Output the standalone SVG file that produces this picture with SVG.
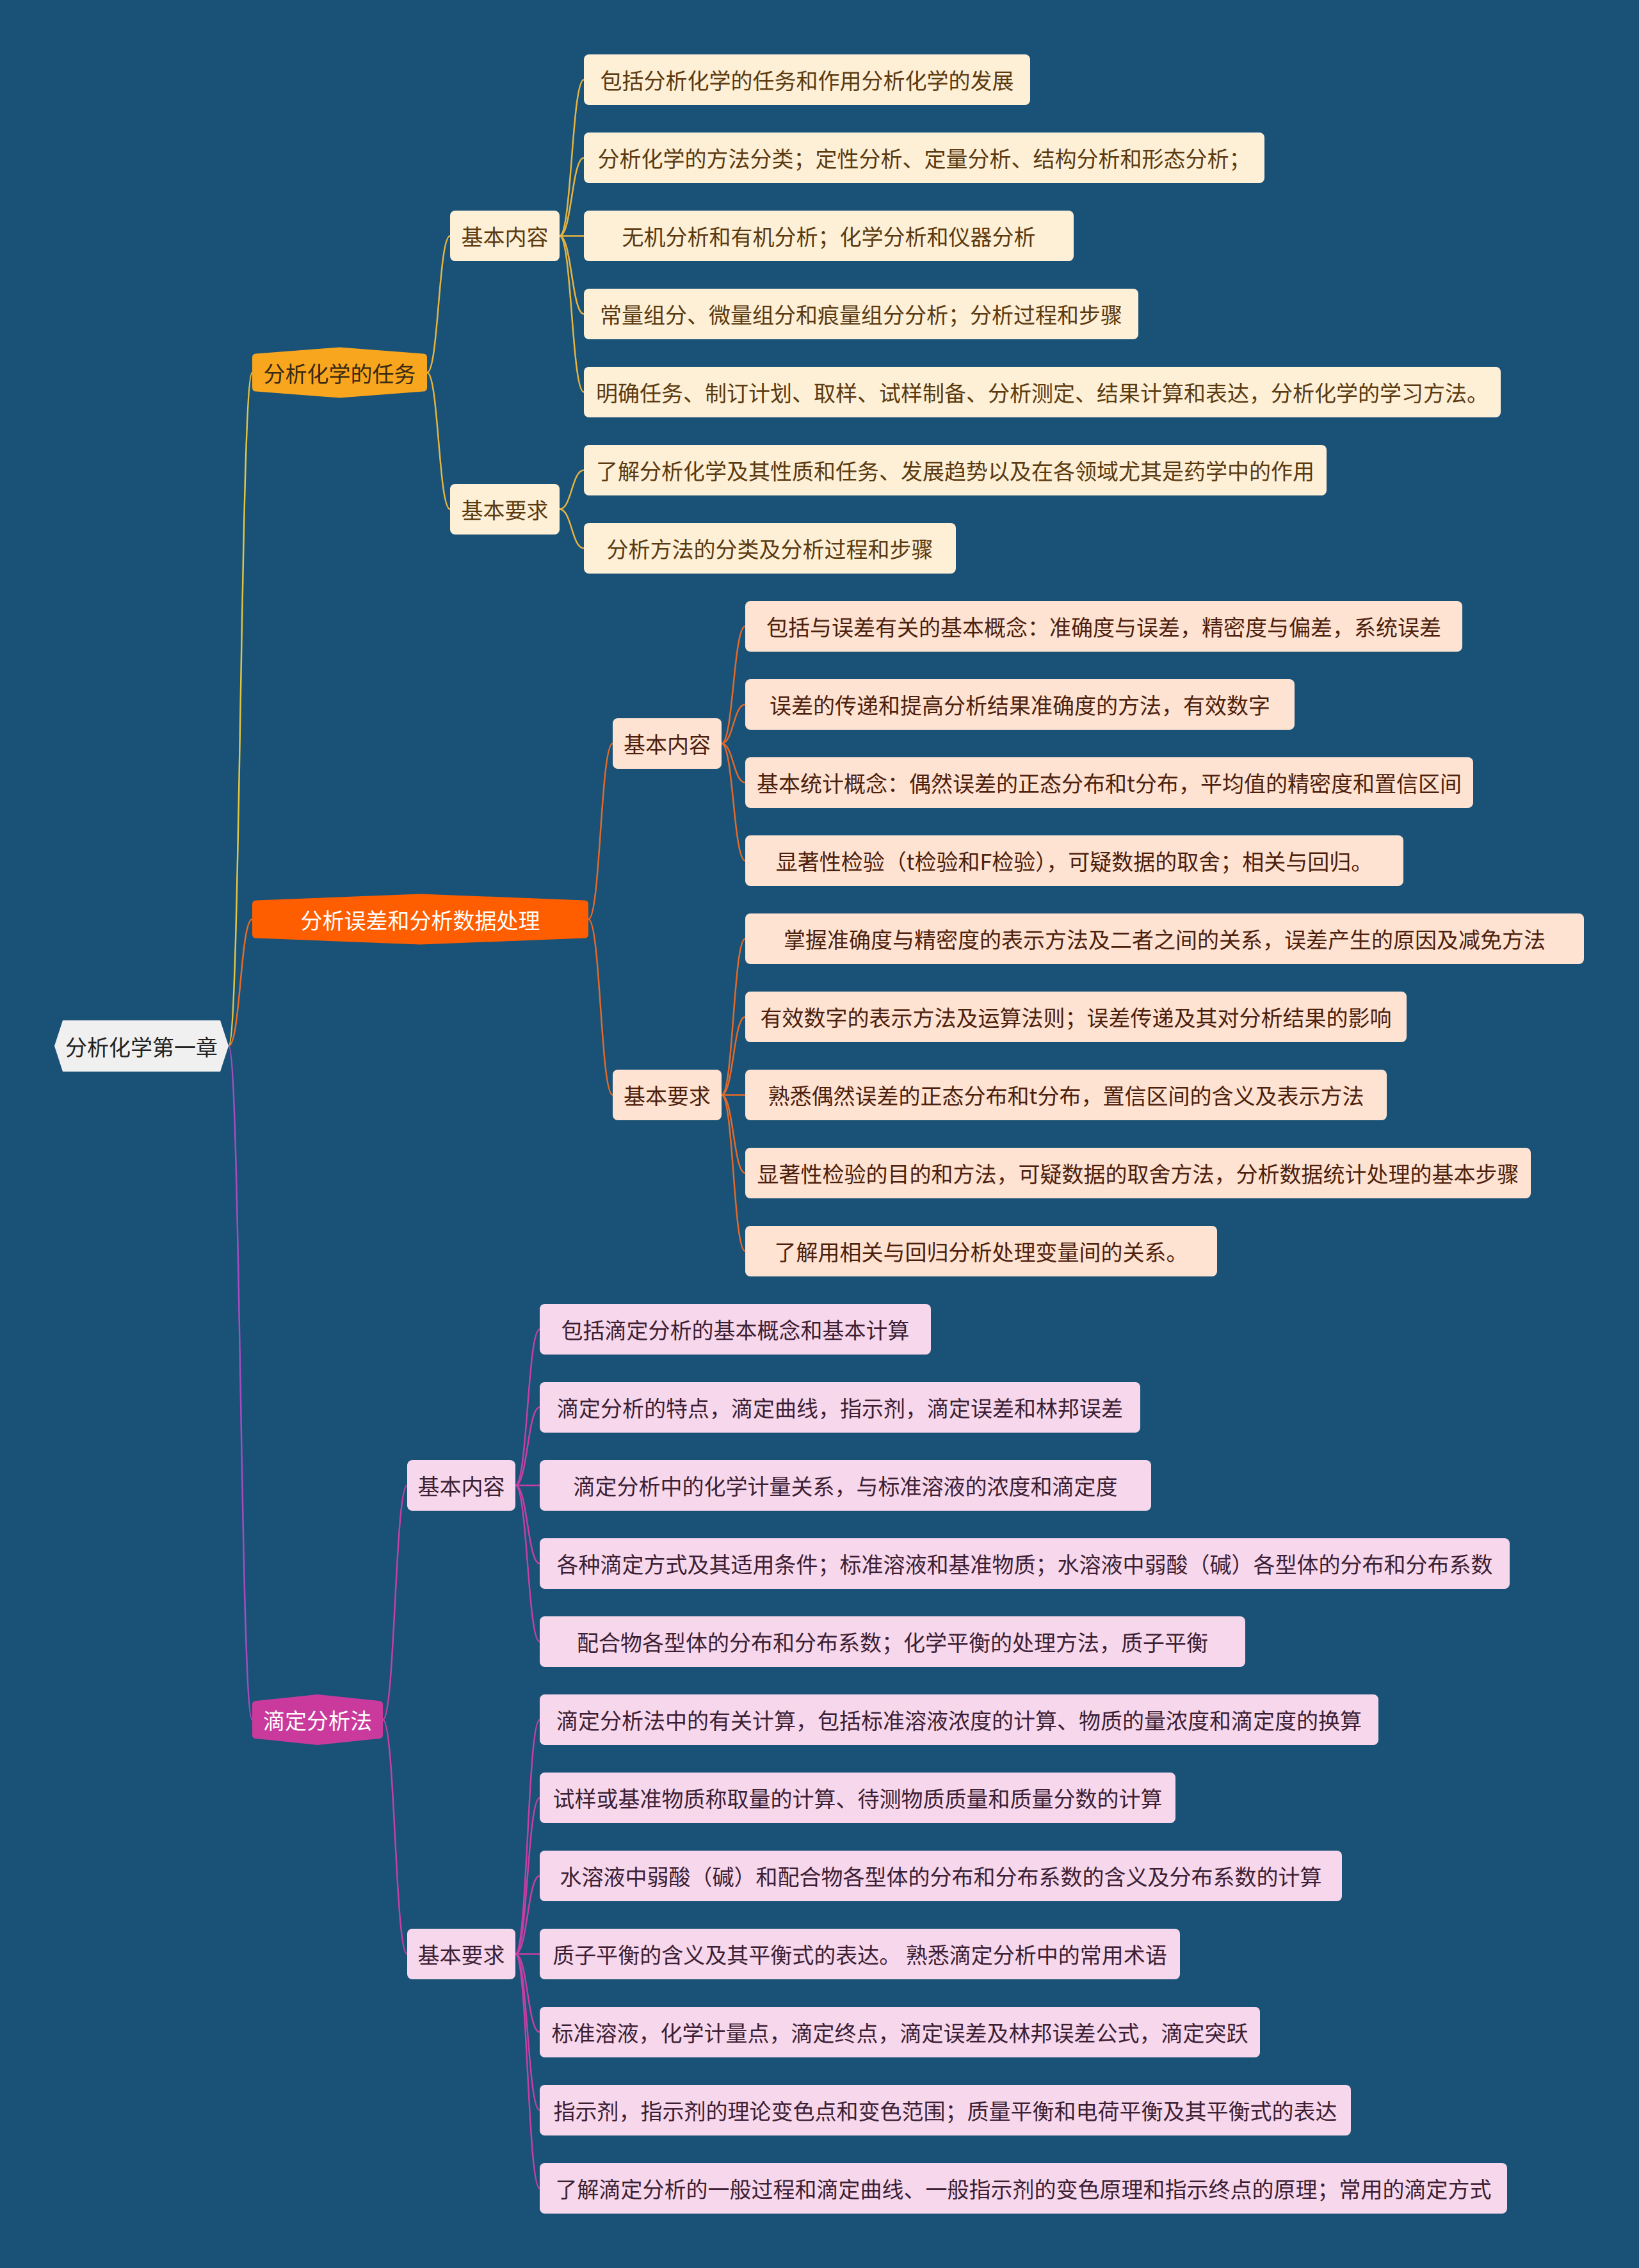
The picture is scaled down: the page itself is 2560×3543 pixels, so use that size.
<svg xmlns="http://www.w3.org/2000/svg" width="2560" height="3543" viewBox="0 0 2560 3543">
<style>
text{font-family:"Noto Sans CJK SC","Noto Sans",sans-serif;font-size:34px;text-anchor:middle;dominant-baseline:central}
.c{fill:none;stroke-width:2.5;stroke-linecap:round}
.c1{stroke:#e6b440}.c2{stroke:#e2692a}.c3{stroke:#c53fa5}
.r1{stroke:#e0c545}.r2{stroke:#e86a28}.r3{stroke:#a64cc0}
.b1{fill:#fdf0d7}.b2{fill:#fee2d2}.b3{fill:#f7d7eb}
.t1{fill:#5b3a10}.t2{fill:#4d1f0d}.t3{fill:#3c1f35}
</style>
<rect width="2560" height="3543" fill="#195276"/>
<g id="connectors">
<path class="c r1" d="M357,1634 C375.5,1634 375.5,582 394,582"/>
<path class="c r2" d="M357,1634 C375.5,1634 375.5,1436 394,1436"/>
<path class="c r3" d="M357,1634 C375.5,1634 375.5,2686.5 394,2686.5"/>
<path class="c c1" d="M667,582 C685,582 685,368.5 703,368.5"/>
<path class="c c1" d="M667,582 C685,582 685,795.5 703,795.5"/>
<path class="c c1" d="M874,368.5 C893,368.5 893,124.5 912,124.5"/>
<path class="c c1" d="M874,368.5 C893,368.5 893,246.5 912,246.5"/>
<path class="c c1" d="M874,368.5 C893,368.5 893,368.5 912,368.5"/>
<path class="c c1" d="M874,368.5 C893,368.5 893,490.5 912,490.5"/>
<path class="c c1" d="M874,368.5 C893,368.5 893,612.5 912,612.5"/>
<path class="c c1" d="M874,795.5 C893,795.5 893,734.5 912,734.5"/>
<path class="c c1" d="M874,795.5 C893,795.5 893,856.5 912,856.5"/>
<path class="c c2" d="M919,1436 C938,1436 938,1161.5 957,1161.5"/>
<path class="c c2" d="M919,1436 C938,1436 938,1710.5 957,1710.5"/>
<path class="c c2" d="M1127,1161.5 C1145.5,1161.5 1145.5,978.5 1164,978.5"/>
<path class="c c2" d="M1127,1161.5 C1145.5,1161.5 1145.5,1100.5 1164,1100.5"/>
<path class="c c2" d="M1127,1161.5 C1145.5,1161.5 1145.5,1222.5 1164,1222.5"/>
<path class="c c2" d="M1127,1161.5 C1145.5,1161.5 1145.5,1344.5 1164,1344.5"/>
<path class="c c2" d="M1127,1710.5 C1145.5,1710.5 1145.5,1466.5 1164,1466.5"/>
<path class="c c2" d="M1127,1710.5 C1145.5,1710.5 1145.5,1588.5 1164,1588.5"/>
<path class="c c2" d="M1127,1710.5 C1145.5,1710.5 1145.5,1710.5 1164,1710.5"/>
<path class="c c2" d="M1127,1710.5 C1145.5,1710.5 1145.5,1832.5 1164,1832.5"/>
<path class="c c2" d="M1127,1710.5 C1145.5,1710.5 1145.5,1954.5 1164,1954.5"/>
<path class="c c3" d="M598,2686.5 C617,2686.5 617,2320.5 636,2320.5"/>
<path class="c c3" d="M598,2686.5 C617,2686.5 617,3052.5 636,3052.5"/>
<path class="c c3" d="M805,2320.5 C824,2320.5 824,2076.5 843,2076.5"/>
<path class="c c3" d="M805,2320.5 C824,2320.5 824,2198.5 843,2198.5"/>
<path class="c c3" d="M805,2320.5 C824,2320.5 824,2320.5 843,2320.5"/>
<path class="c c3" d="M805,2320.5 C824,2320.5 824,2442.5 843,2442.5"/>
<path class="c c3" d="M805,2320.5 C824,2320.5 824,2564.5 843,2564.5"/>
<path class="c c3" d="M805,3052.5 C824,3052.5 824,2686.5 843,2686.5"/>
<path class="c c3" d="M805,3052.5 C824,3052.5 824,2808.5 843,2808.5"/>
<path class="c c3" d="M805,3052.5 C824,3052.5 824,2930.5 843,2930.5"/>
<path class="c c3" d="M805,3052.5 C824,3052.5 824,3052.5 843,3052.5"/>
<path class="c c3" d="M805,3052.5 C824,3052.5 824,3174.5 843,3174.5"/>
<path class="c c3" d="M805,3052.5 C824,3052.5 824,3296.5 843,3296.5"/>
<path class="c c3" d="M805,3052.5 C824,3052.5 824,3418.5 843,3418.5"/>
</g>
<g id="root">
<polygon points="85,1634 98,1594 344,1594 357,1634 344,1674 98,1674" fill="#f0f0f0"/>
<text x="221" y="1634" fill="#222222">分析化学第一章</text>
</g>
<g id="s1">
<path d="M400,552.5 L530.5,542.5 L661,552.5 Q667,552.5 667,558.5 L667,605.5 Q667,611.5 661,611.5 L530.5,621.5 L400,611.5 Q394,611.5 394,605.5 L394,558.5 Q394,552.5 400,552.5 Z" fill="#f9a61f"/>
<text x="530.5" y="582" fill="#3a2a10">分析化学的任务</text>
</g>
<g id="s1-content"><rect class="b1" x="703" y="329" width="171" height="79" rx="8"/><text class="t1" x="788.5" y="368.5">基本内容</text></g>
<g id="s1-req"><rect class="b1" x="703" y="756" width="171" height="79" rx="8"/><text class="t1" x="788.5" y="795.5">基本要求</text></g>
<g id="s1-1"><rect class="b1" x="912" y="85" width="697" height="79" rx="8"/><text class="t1" x="1260.5" y="124.5">包括分析化学的任务和作用分析化学的发展</text></g>
<g id="s1-2"><rect class="b1" x="912" y="207" width="1063" height="79" rx="8"/><text class="t1" x="1443.5" y="246.5">分析化学的方法分类；定性分析、定量分析、结构分析和形态分析；</text></g>
<g id="s1-3"><rect class="b1" x="912" y="329" width="765" height="79" rx="8"/><text class="t1" x="1294.5" y="368.5">无机分析和有机分析；化学分析和仪器分析</text></g>
<g id="s1-4"><rect class="b1" x="912" y="451" width="866" height="79" rx="8"/><text class="t1" x="1345" y="490.5">常量组分、微量组分和痕量组分分析；分析过程和步骤</text></g>
<g id="s1-5"><rect class="b1" x="912" y="573" width="1432" height="79" rx="8"/><text class="t1" x="1628" y="612.5">明确任务、制订计划、取样、试样制备、分析测定、结果计算和表达，分析化学的学习方法。</text></g>
<g id="s1-6"><rect class="b1" x="912" y="695" width="1160" height="79" rx="8"/><text class="t1" x="1492" y="734.5">了解分析化学及其性质和任务、发展趋势以及在各领域尤其是药学中的作用</text></g>
<g id="s1-7"><rect class="b1" x="912" y="817" width="581" height="79" rx="8"/><text class="t1" x="1202.5" y="856.5">分析方法的分类及分析过程和步骤</text></g>
<g id="s2">
<path d="M400,1406.5 L656.5,1396.5 L913,1406.5 Q919,1406.5 919,1412.5 L919,1459.5 Q919,1465.5 913,1465.5 L656.5,1475.5 L400,1465.5 Q394,1465.5 394,1459.5 L394,1412.5 Q394,1406.5 400,1406.5 Z" fill="#fe5e00"/>
<text x="656.5" y="1436" fill="#ffffff">分析误差和分析数据处理</text>
</g>
<g id="s2-content"><rect class="b2" x="957" y="1122" width="170" height="79" rx="8"/><text class="t2" x="1042" y="1161.5">基本内容</text></g>
<g id="s2-req"><rect class="b2" x="957" y="1671" width="170" height="79" rx="8"/><text class="t2" x="1042" y="1710.5">基本要求</text></g>
<g id="s2-1"><rect class="b2" x="1164" y="939" width="1120" height="79" rx="8"/><text class="t2" x="1724" y="978.5">包括与误差有关的基本概念：准确度与误差，精密度与偏差，系统误差</text></g>
<g id="s2-2"><rect class="b2" x="1164" y="1061" width="858" height="79" rx="8"/><text class="t2" x="1593" y="1100.5">误差的传递和提高分析结果准确度的方法，有效数字</text></g>
<g id="s2-3"><rect class="b2" x="1164" y="1183" width="1137" height="79" rx="8"/><text class="t2" x="1732.5" y="1222.5">基本统计概念：偶然误差的正态分布和t分布，平均值的精密度和置信区间</text></g>
<g id="s2-4"><rect class="b2" x="1164" y="1305" width="1028" height="79" rx="8"/><text class="t2" x="1678" y="1344.5">显著性检验（t检验和F检验），可疑数据的取舍；相关与回归。</text></g>
<g id="s2-5"><rect class="b2" x="1164" y="1427" width="1310" height="79" rx="8"/><text class="t2" x="1819" y="1466.5">掌握准确度与精密度的表示方法及二者之间的关系，误差产生的原因及减免方法</text></g>
<g id="s2-6"><rect class="b2" x="1164" y="1549" width="1033" height="79" rx="8"/><text class="t2" x="1680.5" y="1588.5">有效数字的表示方法及运算法则；误差传递及其对分析结果的影响</text></g>
<g id="s2-7"><rect class="b2" x="1164" y="1671" width="1002" height="79" rx="8"/><text class="t2" x="1665" y="1710.5">熟悉偶然误差的正态分布和t分布，置信区间的含义及表示方法</text></g>
<g id="s2-8"><rect class="b2" x="1164" y="1793" width="1227" height="79" rx="8"/><text class="t2" x="1777.5" y="1832.5">显著性检验的目的和方法，可疑数据的取舍方法，分析数据统计处理的基本步骤</text></g>
<g id="s2-9"><rect class="b2" x="1164" y="1915" width="737" height="79" rx="8"/><text class="t2" x="1532.5" y="1954.5">了解用相关与回归分析处理变量间的关系。</text></g>
<g id="s3">
<path d="M400,2657 L496,2647 L592,2657 Q598,2657 598,2663 L598,2710 Q598,2716 592,2716 L496,2726 L400,2716 Q394,2716 394,2710 L394,2663 Q394,2657 400,2657 Z" fill="#c93a9c"/>
<text x="496" y="2686.5" fill="#ffffff">滴定分析法</text>
</g>
<g id="s3-content"><rect class="b3" x="636" y="2281" width="169" height="79" rx="8"/><text class="t3" x="720.5" y="2320.5">基本内容</text></g>
<g id="s3-req"><rect class="b3" x="636" y="3013" width="169" height="79" rx="8"/><text class="t3" x="720.5" y="3052.5">基本要求</text></g>
<g id="s3-1"><rect class="b3" x="843" y="2037" width="611" height="79" rx="8"/><text class="t3" x="1148.5" y="2076.5">包括滴定分析的基本概念和基本计算</text></g>
<g id="s3-2"><rect class="b3" x="843" y="2159" width="938" height="79" rx="8"/><text class="t3" x="1312" y="2198.5">滴定分析的特点，滴定曲线，指示剂，滴定误差和林邦误差</text></g>
<g id="s3-3"><rect class="b3" x="843" y="2281" width="955" height="79" rx="8"/><text class="t3" x="1320.5" y="2320.5">滴定分析中的化学计量关系，与标准溶液的浓度和滴定度</text></g>
<g id="s3-4"><rect class="b3" x="843" y="2403" width="1515" height="79" rx="8"/><text class="t3" x="1600.5" y="2442.5">各种滴定方式及其适用条件；标准溶液和基准物质；水溶液中弱酸（碱）各型体的分布和分布系数</text></g>
<g id="s3-5"><rect class="b3" x="843" y="2525" width="1102" height="79" rx="8"/><text class="t3" x="1394" y="2564.5">配合物各型体的分布和分布系数；化学平衡的处理方法，质子平衡</text></g>
<g id="s3-6"><rect class="b3" x="843" y="2647" width="1310" height="79" rx="8"/><text class="t3" x="1498" y="2686.5">滴定分析法中的有关计算，包括标准溶液浓度的计算、物质的量浓度和滴定度的换算</text></g>
<g id="s3-7"><rect class="b3" x="843" y="2769" width="993" height="79" rx="8"/><text class="t3" x="1339.5" y="2808.5">试样或基准物质称取量的计算、待测物质质量和质量分数的计算</text></g>
<g id="s3-8"><rect class="b3" x="843" y="2891" width="1253" height="79" rx="8"/><text class="t3" x="1469.5" y="2930.5">水溶液中弱酸（碱）和配合物各型体的分布和分布系数的含义及分布系数的计算</text></g>
<g id="s3-9"><rect class="b3" x="843" y="3013" width="1000" height="79" rx="8"/><text class="t3" x="1343" y="3052.5">质子平衡的含义及其平衡式的表达。 熟悉滴定分析中的常用术语</text></g>
<g id="s3-10"><rect class="b3" x="843" y="3135" width="1125" height="79" rx="8"/><text class="t3" x="1405.5" y="3174.5">标准溶液，化学计量点，滴定终点，滴定误差及林邦误差公式，滴定突跃</text></g>
<g id="s3-11"><rect class="b3" x="843" y="3257" width="1267" height="79" rx="8"/><text class="t3" x="1476.5" y="3296.5">指示剂，指示剂的理论变色点和变色范围；质量平衡和电荷平衡及其平衡式的表达</text></g>
<g id="s3-12"><rect class="b3" x="843" y="3379" width="1511" height="79" rx="8"/><text class="t3" x="1598.5" y="3418.5">了解滴定分析的一般过程和滴定曲线、一般指示剂的变色原理和指示终点的原理；常用的滴定方式</text></g>
</svg>
